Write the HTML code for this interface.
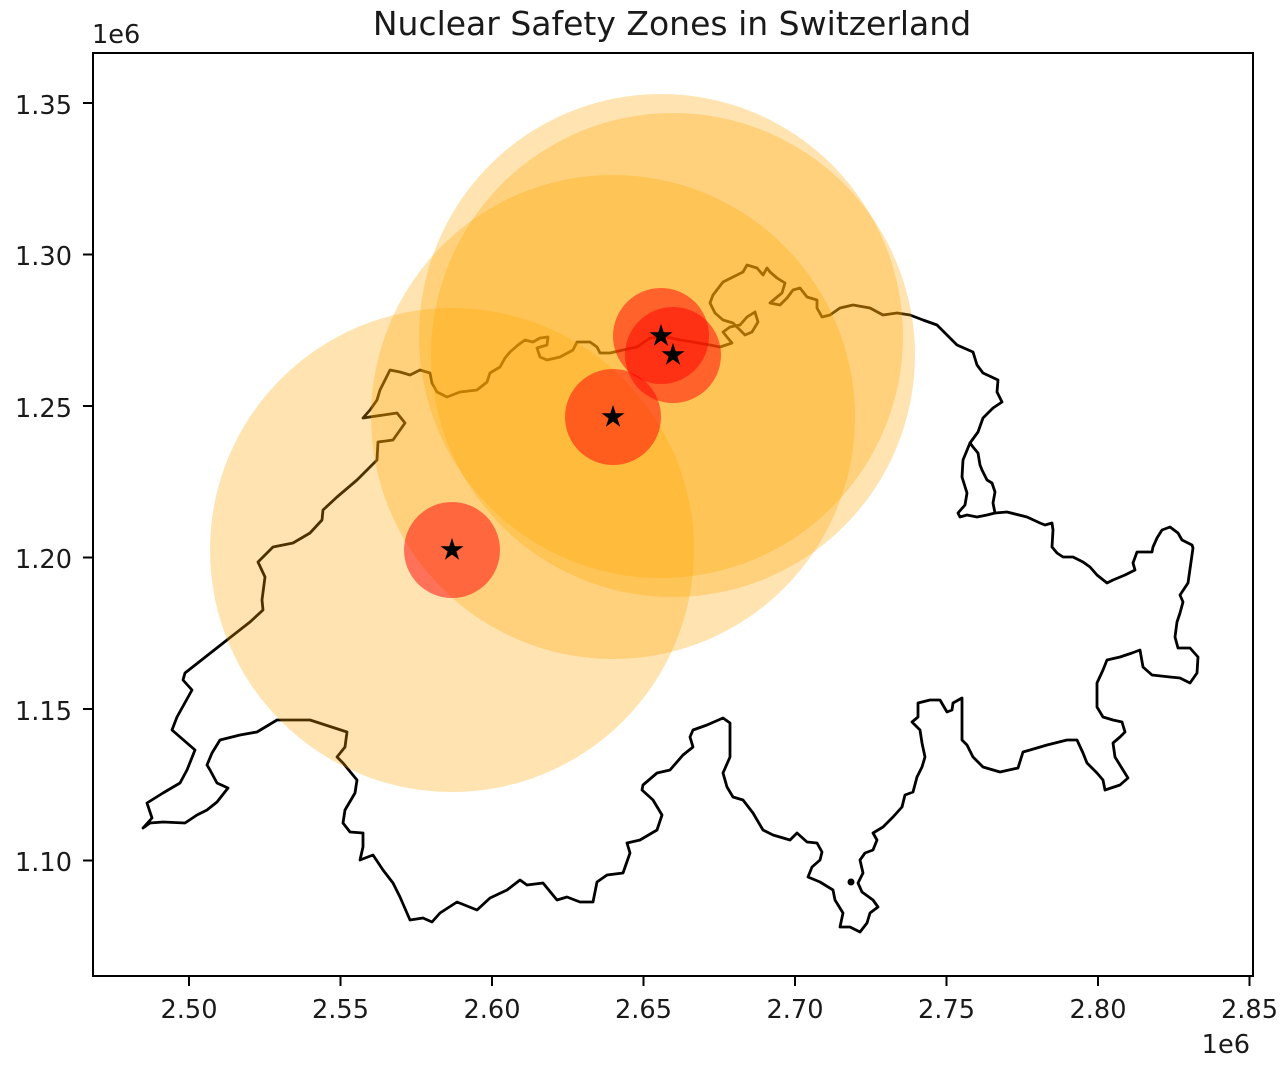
<!DOCTYPE html>
<html>
<head>
<meta charset="utf-8">
<style>
  html, body { margin: 0; padding: 0; background: #ffffff; }
  svg { display: block; }
  text { font-family: "DejaVu Sans", "Liberation Sans", sans-serif; fill: #1a1a1a; }
</style>
</head>
<body>
<svg width="1288" height="1076" viewBox="0 0 1288 1076" xmlns="http://www.w3.org/2000/svg">
  <rect x="0" y="0" width="1288" height="1076" fill="#ffffff"/>

  <!-- Switzerland border -->
  <g fill="none" stroke="#000" stroke-width="2.8" stroke-linejoin="round" stroke-linecap="round">
    <path d="M143,828 L152,818 L147,803 L163,793 L180,783 L187,770 L195,750 L172,730 L177,717 L192,690 L183,680 L185,673 L227,640 L250,622 L263,610 L262,600 L265,577 L258,562 L273,547 L293,543 L310,533 L322,520 L323,510 L337,497 L357,480 L377,460 L378,442 L393,440 L405,423 L397,413 L363,418 L370,410 L377,400 L380,390 L385,380 L390,370 L400,372 L410,375 L420,370 L430,373 L432,383 L437,392 L447,397 L460,392 L477,390 L487,382 L490,373 L500,367 L505,358 L510,352 L518,345 L525,340 L533,342 L540,338 L548,337 L547,345 L537,348 L540,357 L547,360 L560,357 L573,350 L577,342 L590,342 L597,347 L600,353 L610,353 L623,350 L637,347 L650,338 L667,337 L680,340 L693,342 L710,345 L720,347 L732,343 L727,337 L723,332 L730,327 L740,325 L747,317 L755,312 L758,322 L752,332 L745,335 L740,330 L733,323 L723,320 L715,313 L710,303 L713,295 L723,282 L733,277 L743,272 L747,265 L757,268 L763,275 L767,268 L770,272 L777,278 L785,283 L782,293 L777,297 L770,303 L780,305 L787,298 L793,290 L800,288 L807,297 L817,300 L817,308 L822,317 L830,315 L840,308 L853,305 L870,308 L883,315 L897,313 L910,315 L923,320 L937,325 L947,335 L957,345 L973,352 L977,365 L983,373 L998,380 L997,392 L1002,402 L993,408 L983,418 L978,432 L970,443 L963,460 L962,477 L967,493 L965,505 L958,513 L960,517 L967,515 L977,517 L987,515 L995,513 L1007,512 L1027,517 L1040,523 L1045,525 L1052,523 L1053,530 L1052,547 L1057,553 L1063,557 L1073,557 L1083,562 L1090,567 L1097,575 L1107,583 L1113,580 L1125,575 L1135,570 L1133,563 L1137,552 L1142,552 L1152,552 L1153,547 L1157,538 L1162,530 L1170,527 L1178,533 L1182,540 L1192,545 L1193,548 L1188,583 L1180,595 L1183,602 L1180,613 L1177,622 L1175,637 L1178,648 L1190,648 L1198,657 L1197,673 L1190,683 L1180,678 L1170,677 L1152,675 L1143,667 L1140,650 L1132,653 L1120,657 L1107,660 L1103,670 L1097,683 L1097,707 L1103,717 L1113,720 L1122,722 L1125,732 L1120,737 L1113,743 L1115,757 L1123,770 L1128,778 L1120,785 L1105,790 L1103,780 L1097,773 L1087,763 L1083,753 L1077,740 L1067,740 L1047,745 L1030,750 L1023,752 L1018,768 L1000,772 L983,767 L973,757 L967,745 L962,740 L962,698 L953,703 L952,710 L947,712 L940,700 L930,700 L918,703 L918,717 L912,722 L920,730 L922,743 L925,757 L922,767 L917,777 L913,792 L905,795 L902,807 L893,817 L883,827 L873,833 L877,840 L873,850 L865,853 L860,860 L863,873 L858,883 L862,892 L873,900 L878,907 L870,913 L867,923 L860,932 L850,927 L840,927 L843,913 L835,900 L833,890 L820,882 L808,877 L812,867 L820,860 L822,852 L817,843 L807,842 L797,833 L790,840 L773,835 L763,830 L753,813 L743,800 L733,797 L727,787 L723,773 L730,757 L730,723 L723,718 L707,725 L693,730 L690,737 L693,747 L683,755 L670,770 L657,773 L643,785 L642,790 L653,800 L662,815 L657,830 L640,840 L627,843 L630,853 L623,873 L607,875 L597,882 L593,902 L580,902 L567,897 L557,900 L543,883 L527,885 L520,880 L507,890 L490,898 L477,910 L457,902 L440,913 L432,922 L423,918 L410,920 L400,897 L393,883 L383,870 L373,855 L360,860 L363,847 L363,833 L350,832 L343,823 L345,810 L355,793 L357,780 L343,763 L337,757 L345,747 L347,732 L310,720 L277,720 L257,732 L240,735 L220,740 L212,753 L207,765 L210,770 L217,783 L228,788 L217,802 L207,810 L197,815 L185,823 L163,822 L150,823 Z"/>
    <path d="M970,443 L973,447 L978,453 L980,465 L982,470 L987,480 L992,483 L995,492 L993,503 L995,513"/>
  </g>
  <circle cx="851" cy="882" r="3.5" fill="#000"/>

  <!-- 80 km zones -->
  <g fill="rgb(255,165,0)" fill-opacity="0.3">
    <circle cx="452" cy="550" r="242"/>
    <circle cx="613" cy="417" r="242"/>
    <circle cx="661" cy="336" r="242"/>
    <circle cx="673" cy="355" r="242"/>
  </g>

  <!-- inner zones -->
  <g fill="rgb(255,0,0)" fill-opacity="0.5">
    <circle cx="452" cy="550" r="48"/>
    <circle cx="613" cy="417" r="48"/>
    <circle cx="661" cy="336" r="48"/>
    <circle cx="673" cy="355" r="48"/>
  </g>

  <!-- stars -->
  <g fill="#000" stroke="#000" stroke-width="1">
    <path transform="translate(452,550)" d="M0,-10.5 L2.35,-3.24 L9.99,-3.24 L3.8,1.24 L6.17,8.49 L0,4 L-6.17,8.49 L-3.8,1.24 L-9.99,-3.24 L-2.35,-3.24 Z"/>
    <path transform="translate(613,417)" d="M0,-10.5 L2.35,-3.24 L9.99,-3.24 L3.8,1.24 L6.17,8.49 L0,4 L-6.17,8.49 L-3.8,1.24 L-9.99,-3.24 L-2.35,-3.24 Z"/>
    <path transform="translate(661,336)" d="M0,-10.5 L2.35,-3.24 L9.99,-3.24 L3.8,1.24 L6.17,8.49 L0,4 L-6.17,8.49 L-3.8,1.24 L-9.99,-3.24 L-2.35,-3.24 Z"/>
    <path transform="translate(673,355)" d="M0,-10.5 L2.35,-3.24 L9.99,-3.24 L3.8,1.24 L6.17,8.49 L0,4 L-6.17,8.49 L-3.8,1.24 L-9.99,-3.24 L-2.35,-3.24 Z"/>
  </g>

  <!-- axes frame -->
  <rect x="93" y="53" width="1160" height="923" fill="none" stroke="#000" stroke-width="2"/>

  <!-- y ticks -->
  <g stroke="#000" stroke-width="2">
    <line x1="83" y1="103" x2="93" y2="103"/>
    <line x1="83" y1="254.5" x2="93" y2="254.5"/>
    <line x1="83" y1="406" x2="93" y2="406"/>
    <line x1="83" y1="557.5" x2="93" y2="557.5"/>
    <line x1="83" y1="709" x2="93" y2="709"/>
    <line x1="83" y1="860.5" x2="93" y2="860.5"/>
  </g>
  <g font-size="25.6" text-anchor="end">
    <text x="72" y="114">1.35</text>
    <text x="72" y="265">1.30</text>
    <text x="72" y="417">1.25</text>
    <text x="72" y="568">1.20</text>
    <text x="72" y="720">1.15</text>
    <text x="72" y="871">1.10</text>
  </g>

  <!-- x ticks -->
  <g stroke="#000" stroke-width="2">
    <line x1="189" y1="976" x2="189" y2="986"/>
    <line x1="340.5" y1="976" x2="340.5" y2="986"/>
    <line x1="492" y1="976" x2="492" y2="986"/>
    <line x1="643.5" y1="976" x2="643.5" y2="986"/>
    <line x1="795" y1="976" x2="795" y2="986"/>
    <line x1="946.5" y1="976" x2="946.5" y2="986"/>
    <line x1="1098" y1="976" x2="1098" y2="986"/>
    <line x1="1249.5" y1="976" x2="1249.5" y2="986"/>
  </g>
  <g font-size="25.6" text-anchor="middle">
    <text x="189" y="1018">2.50</text>
    <text x="340.5" y="1018">2.55</text>
    <text x="492" y="1018">2.60</text>
    <text x="643.5" y="1018">2.65</text>
    <text x="795" y="1018">2.70</text>
    <text x="946.5" y="1018">2.75</text>
    <text x="1098" y="1018">2.80</text>
    <text x="1249.5" y="1018">2.85</text>
  </g>

  <!-- offset texts -->
  <text x="92" y="43" font-size="25.6">1e6</text>
  <text x="1250" y="1053" font-size="25.6" text-anchor="end">1e6</text>

  <!-- title -->
  <text x="672" y="35" font-size="33" text-anchor="middle">Nuclear Safety Zones in Switzerland</text>
</svg>
</body>
</html>
